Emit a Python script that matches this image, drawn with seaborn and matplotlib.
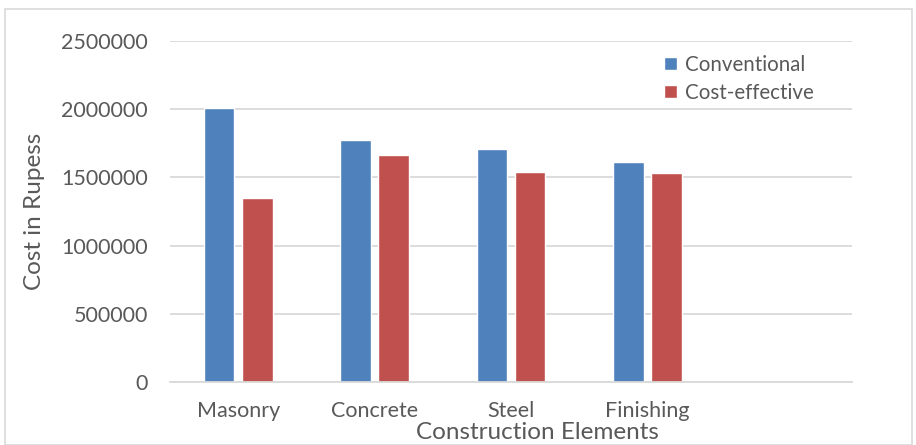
import matplotlib
matplotlib.use("Agg")
import matplotlib.pyplot as plt
import seaborn as sns
import pandas as pd
import numpy as np
from matplotlib.patches import Rectangle

categories = ["Masonry", "Concrete", "Steel", "Finishing", ""]
conventional = [2010000, 1772000, 1705000, 1615000, np.nan]
cost_effective = [1350000, 1666000, 1543000, 1530000, np.nan]
series = ["Conventional", "Cost-effective"]
colors = ["#4F81BD", "#C0504D"]
yticks = [0, 500000, 1000000, 1500000, 2000000, 2500000]

df = pd.DataFrame({
    "Element": categories * 2,
    "Series": [series[0]] * len(categories) + [series[1]] * len(categories),
    "Cost": conventional + cost_effective,
})

sns.set_theme(style="white")
plt.rcParams["font.family"] = ["Lato", "DejaVu Sans"]
text_color = "#595959"

fig = plt.figure(figsize=(9.16, 4.45), dpi=100)
ax = fig.add_axes([170/916, 1-382/445, (852-170)/916, (382-41)/445])

sns.barplot(data=df, x="Element", y="Cost", hue="Series", order=categories,
            hue_order=series, palette=colors, width=0.56, gap=0.2,
            saturation=1, ax=ax, errorbar=None)

ax.set_ylim(0, 2500000)
ax.set_xlim(-0.5, 4.5)
ax.set_yticks(yticks)
ax.set_yticklabels([str(v) for v in yticks])
ax.yaxis.grid(True, color="#d9d9d9", linewidth=1.3)
ax.set_axisbelow(True)
for s in ["top", "right", "left"]:
    ax.spines[s].set_visible(False)
ax.spines["bottom"].set_color("#d9d9d9")
ax.spines["bottom"].set_linewidth(1.3)
ax.tick_params(axis="both", length=0, labelsize=15.5, colors=text_color)
ax.tick_params(axis="x", pad=14)
ax.tick_params(axis="y", pad=16)

ax.set_xlabel("Construction Elements", fontsize=17.5, color=text_color)
ax.xaxis.set_label_coords((537-170)/682, -0.118)
ax.set_ylabel("Cost in Rupess", fontsize=17.5, color=text_color)
ax.yaxis.set_label_coords((45-170)/682, 0.5)

leg = ax.legend(loc="upper left", bbox_to_anchor=((664-170)/682, 1-(55-41)/341),
                frameon=False, fontsize=14.8, handlelength=0.62, handleheight=0.62,
                handletextpad=0.4, labelspacing=0.38, borderaxespad=0,
                borderpad=0)
for t in leg.get_texts():
    t.set_color(text_color)

fig.patches.append(Rectangle((5/916, 0), (912-5)/916, 1-9/445, transform=fig.transFigure,
                             fill=False, edgecolor="#d9d9d9", linewidth=1.2))

fig.savefig("out.png", dpi=100)
